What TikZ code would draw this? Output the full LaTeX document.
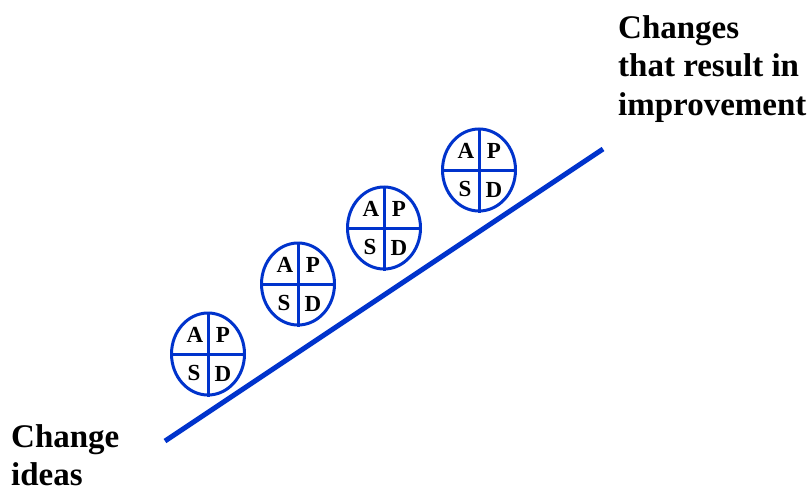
\documentclass[tikz,border=0pt]{standalone}
\usepackage{fontspec}
\setmainfont{Liberation Serif}
\usetikzlibrary{shapes.geometric}
\definecolor{pdcablue}{RGB}{0,51,204}

\begin{document}
\begin{tikzpicture}[
    x=1pt, y=-1pt,
    trend/.style={draw=pdcablue, line width=5pt},
    cycle/.style={ellipse, draw=pdcablue, line width=3pt, minimum width=73pt, minimum height=82pt, inner sep=0pt},
    quarter/.style={font=\bfseries\fontsize{23}{23}\selectfont, inner sep=0pt},
    label/.style={font=\bfseries\fontsize{33}{38.5}\selectfont, align=left, inner sep=0pt, anchor=north west}
]
\useasboundingbox (0,0) rectangle (810,495);

% rising line of improvement
\coordinate (low) at (165,441);
\coordinate (high) at (603,149);
\draw[trend] (low) -- (high);

% PDSA cycles along the line
\foreach \n/\cx/\cy in {1/208/354, 2/298/284, 3/384/228, 4/479/170} {
  \node[cycle] (c\n) at (\cx,\cy) {};
  \draw[pdcablue, line width=3pt] (c\n.north) -- (c\n.south);
  \draw[pdcablue, line width=3pt] (c\n.west) -- (c\n.east);
  \node[quarter] (a\n) at ([xshift=-13pt, yshift=19pt]c\n.center) {A};
  \node[quarter] (p\n) at ([xshift=15pt, yshift=19pt]c\n.center) {P};
  \node[quarter] (s\n) at ([xshift=-14pt, yshift=-19pt]c\n.center) {S};
  \node[quarter] (d\n) at ([xshift=15pt, yshift=-20pt]c\n.center) {D};
}

\node[label] (goal) at (618,15) {Changes\\that result in\\improvement};
\node[label] (start) at (11,424) {Change\\ideas};
\end{tikzpicture}
\end{document}
